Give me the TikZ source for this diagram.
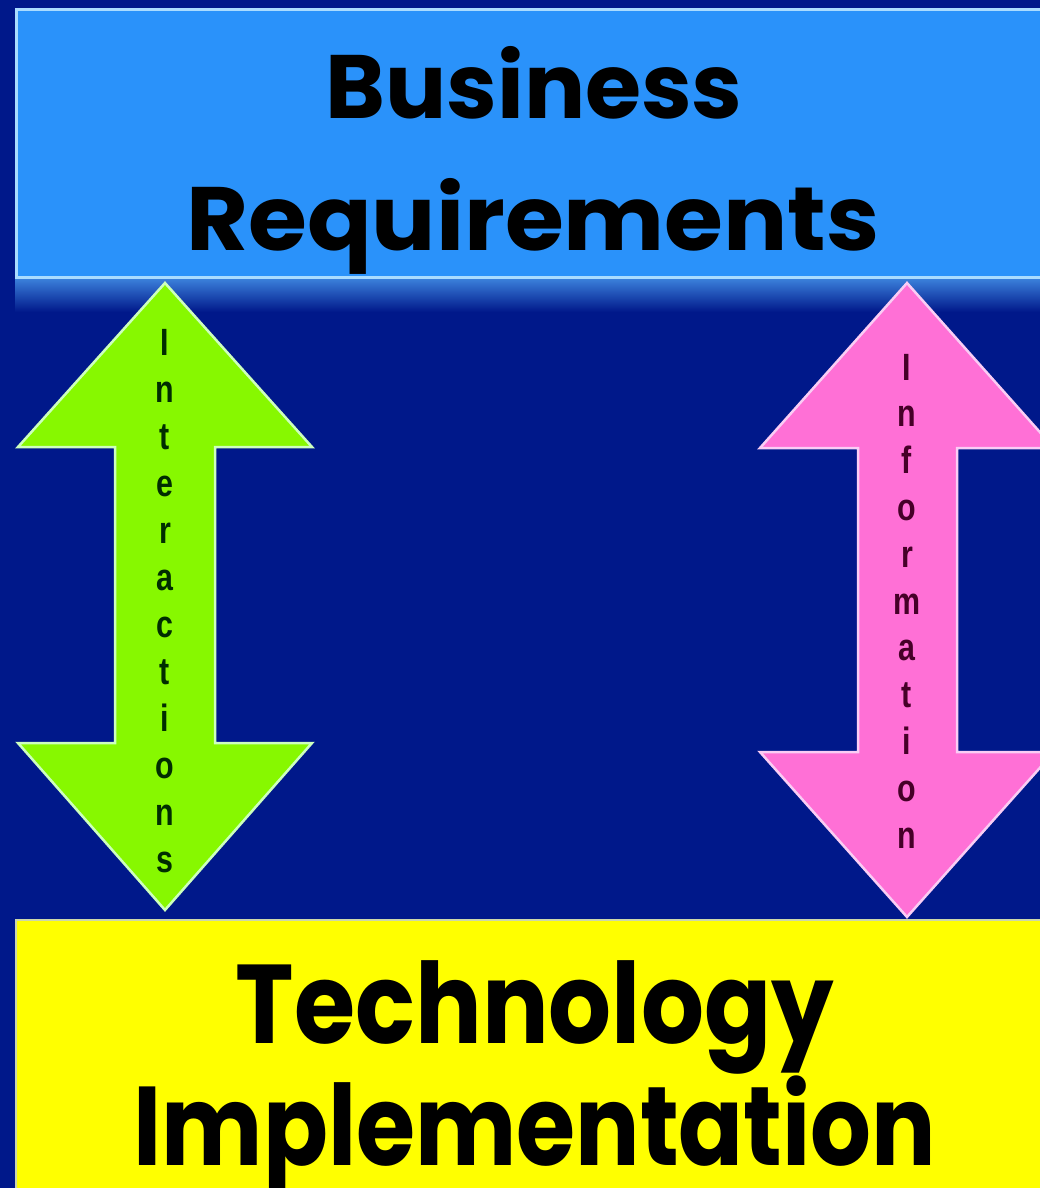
\documentclass[tikz,border=0pt]{standalone}
\usepackage{fontspec}
\setmainfont{Poppins}
\newfontfamily\letterfont{Liberation Sans}
\usetikzlibrary{positioning}

\definecolor{bgnavy}{RGB}{0,24,138}
\definecolor{reqblue}{RGB}{42,146,250}
\definecolor{reqedge}{RGB}{170,220,255}
\definecolor{techyellow}{RGB}{255,255,0}
\definecolor{techedge}{RGB}{205,215,170}
\definecolor{intgreen}{RGB}{135,248,0}
\definecolor{intedge}{RGB}{205,255,190}
\definecolor{infpink}{RGB}{255,112,214}
\definecolor{infedge}{RGB}{250,205,245}
\definecolor{glow}{RGB}{60,130,220}

\tikzset{
  title/.style={anchor=base, inner sep=0pt, text=black,
    font=\bfseries\fontsize{90}{90}\selectfont},
  bigtitle/.style={title, font=\bfseries\fontsize{112}{112}\selectfont},
  letter/.style={anchor=base, inner sep=0pt,
    font=\letterfont\bfseries\fontsize{38}{38}\selectfont}
}

\begin{document}
\begin{tikzpicture}[x=1pt,y=-1pt]
  \clip (0,0) rectangle (1040,1188);
  \fill[bgnavy] (0,0) rectangle (1040,1188);
  % soft glow under the top box
  \shade[top color=glow, bottom color=bgnavy] (15,278) rectangle (1040,312);

  % the two boxes
  \draw[reqedge, line width=3pt, fill=reqblue] (16,10) rectangle (1060,277);
  \draw[techedge, line width=2pt, fill=techyellow] (16,920) rectangle (1060,1200);

  % double arrows
  \draw[intedge, line width=2.5pt, line join=miter, fill=intgreen]
    (165,283) -- (312,447) -- (215,447) -- (215,743) -- (312,743) -- (165,910)
    -- (18,743) -- (115,743) -- (115,447) -- (18,447) -- cycle;
  \draw[infedge, line width=2.5pt, line join=miter, fill=infpink]
    (907,283) -- (1054,448) -- (957,448) -- (957,752) -- (1054,752) -- (907,917)
    -- (760,752) -- (858,752) -- (858,448) -- (760,448) -- cycle;

  % titles
  \node[title] (bus) at (534,118) {\scalebox{1.01}[1]{Business}};
  \node[title] (req) at (533,250) {\scalebox{1.06}[1]{Requirements}};
  \node[bigtitle] (tech) at (535,1043) {\scalebox{0.884}[1]{Technology}};
  \node[bigtitle] (impl) at (535,1165) {\scalebox{0.854}[1]{Implementation}};

  % vertical words
  \foreach \l [count=\i] in {I,n,t,e,r,a,c,t,i,o,n,s}
    \node[letter, text={rgb,255:red,0;green,45;blue,0}] (int-\i) at (165,{355+47*(\i-1)}) {\scalebox{0.8}[1]{\l}};
  \foreach \l [count=\i] in {I,n,f,o,r,m,a,t,i,o,n}
    \node[letter, text={rgb,255:red,70;green,0;blue,40}] (inf-\i) at (907,{380+46.8*(\i-1)}) {\scalebox{0.8}[1]{\l}};
\end{tikzpicture}
\end{document}
